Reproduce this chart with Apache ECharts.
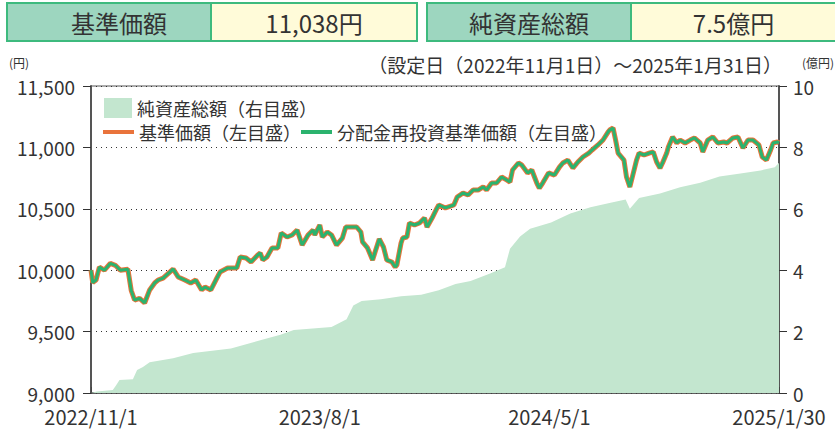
<!DOCTYPE html>
<html>
<head>
<meta charset="utf-8">
<script src="https://cdn.jsdelivr.net/npm/echarts@6.0.0/dist/echarts.min.js"></script>
<style>
html, body { margin: 0; padding: 0; background: #fff; }
#chart { width: 835px; height: 431px; }
</style>
</head>
<body>
<div id="chart"></div>
<script>
// 基準価額（円）
const priceDates = [
  '2022-11-01','2022-11-03','2022-11-07','2022-11-11','2022-11-17','2022-11-24','2022-11-30','2022-12-06','2022-12-15','2022-12-19',
  '2022-12-23','2022-12-29','2023-01-04','2023-01-10','2023-01-16','2023-01-20','2023-01-26','2023-02-03','2023-02-07','2023-02-13',
  '2023-02-21','2023-02-28','2023-03-06','2023-03-13','2023-03-17','2023-03-24','2023-03-30','2023-04-04','2023-04-13','2023-04-24',
  '2023-04-28','2023-05-05','2023-05-11','2023-05-19','2023-05-22','2023-05-25','2023-05-30','2023-06-05','2023-06-12','2023-06-16',
  '2023-06-23','2023-06-29','2023-07-05','2023-07-11','2023-07-18','2023-07-24','2023-07-26','2023-08-01','2023-08-04','2023-08-10',
  '2023-08-15','2023-08-21','2023-08-28','2023-09-01','2023-09-08','2023-09-14','2023-09-19','2023-09-21','2023-09-27','2023-10-03',
  '2023-10-06','2023-10-11','2023-10-16','2023-10-20','2023-10-26','2023-10-30','2023-11-01','2023-11-06','2023-11-08','2023-11-13',
  '2023-11-16','2023-11-22','2023-11-28','2023-12-04','2023-12-07','2023-12-13','2023-12-19','2023-12-21','2023-12-29','2024-01-08',
  '2024-01-12','2024-01-19','2024-01-25','2024-01-31','2024-02-06','2024-02-12','2024-02-16','2024-02-22','2024-02-28','2024-03-05',
  '2024-03-11','2024-03-15','2024-03-18','2024-03-25','2024-03-29','2024-04-05','2024-04-10','2024-04-16','2024-04-19','2024-04-23',
  '2024-04-30','2024-05-07','2024-05-13','2024-05-17','2024-05-23','2024-05-29','2024-06-04','2024-06-10','2024-06-17','2024-06-21',
  '2024-06-28','2024-07-04','2024-07-10','2024-07-12','2024-07-16','2024-07-19','2024-07-22','2024-07-29','2024-08-01','2024-08-05',
  '2024-08-08','2024-08-13','2024-08-16','2024-08-22','2024-08-28','2024-09-02','2024-09-06','2024-09-10','2024-09-13','2024-09-18',
  '2024-09-20','2024-09-25','2024-09-30','2024-10-04','2024-10-10','2024-10-16','2024-10-21','2024-10-28','2024-10-31','2024-11-06',
  '2024-11-12','2024-11-18','2024-11-25','2024-11-29','2024-12-06','2024-12-12','2024-12-18','2024-12-24','2024-12-30','2025-01-06',
  '2025-01-10','2025-01-15','2025-01-20','2025-01-23','2025-01-28','2025-01-30'
]
const priceValues = [
  10000, 9900, 9920, 10025, 10000, 10055, 10040, 10000, 10008, 9835,
  9757, 9770, 9733, 9839, 9896, 9920, 9936, 9985, 10010, 9945,
  9920, 9896, 9920, 9839, 9863, 9839, 9920, 9985, 10018, 10018,
  10108, 10099, 10067, 10124, 10140, 10083, 10108, 10181, 10181, 10303,
  10270, 10287, 10327, 10205, 10287, 10327, 10287, 10368, 10270, 10311,
  10287, 10205, 10262, 10352, 10352, 10352, 10311, 10230, 10181, 10083,
  10148, 10254, 10189, 10083, 10067, 10026, 10043, 10222, 10262, 10270,
  10384, 10368, 10384, 10425, 10352, 10425, 10507, 10531, 10507, 10531,
  10596, 10629, 10612, 10653, 10653, 10678, 10653, 10710, 10710, 10759,
  10735, 10718, 10816, 10873, 10857, 10792, 10816, 10710, 10669, 10710,
  10792, 10775, 10840, 10873, 10897, 10832, 10881, 10922, 10954, 10979,
  11020, 11060, 11125, 11142, 11158, 11060, 10954, 10897, 10759, 10678,
  10759, 10897, 10954, 10938, 10954, 10963, 10881, 10832, 10873, 10954,
  11003, 11085, 11036, 11060, 11036, 11060, 11077, 11036, 10963, 11060,
  11085, 11036, 11044, 11036, 11077, 11085, 10995, 11060, 11060, 11020,
  10922, 10897, 10979, 11036, 11044, 11038
]
// 分配金再投資基準価額（分配実績なしのため基準価額と同値）
const reinvestValues = priceValues.slice()

// 純資産総額（億円）
const navDates = [
  '2022-11-01','2022-11-08','2022-11-27','2022-12-01','2022-12-05','2022-12-21','2022-12-26','2023-01-02','2023-01-10','2023-02-07',
  '2023-03-03','2023-04-17','2023-05-22','2023-06-15','2023-07-01','2023-08-15','2023-09-02','2023-09-10','2023-09-20','2023-10-13',
  '2023-11-06','2023-11-30','2023-12-21','2024-01-10','2024-01-28','2024-02-21','2024-03-09','2024-03-15','2024-03-27','2024-04-08',
  '2024-05-03','2024-05-26','2024-06-19','2024-07-13','2024-07-31','2024-08-05','2024-08-16','2024-09-10','2024-10-04','2024-10-28',
  '2024-11-20','2024-12-15','2025-01-08','2025-01-25','2025-01-30'
]
const navValues = [
  0.0, 0.05, 0.1, 0.25, 0.42, 0.45, 0.75, 0.85, 1.0, 1.13,
  1.3, 1.45, 1.72, 1.9, 2.05, 2.15, 2.4, 2.85, 3.0, 3.05,
  3.15, 3.2, 3.35, 3.55, 3.65, 3.9, 4.1, 4.7, 5.1, 5.35,
  5.55, 5.85, 6.05, 6.2, 6.3, 6.0, 6.35, 6.5, 6.7, 6.85,
  7.05, 7.15, 7.25, 7.35, 7.5
]

const xTickDates = ['2022-11-01', '2023-08-01', '2024-05-01', '2025-01-30']
const leftTicks = [9000, 9500, 10000, 10500, 11000, 11500]
const rightTicks = [0, 2, 4, 6, 8, 10]

// x軸は設定日からの経過日数
const DAY = 86400000
const START = Date.UTC(2022, 10, 1)
const dayOf = s => {
  const [y, m, d] = s.split('-').map(Number)
  return Math.round((Date.UTC(y, m - 1, d) - START) / DAY)
}
const fmtDay = v => {
  const d = new Date(START + v * DAY)
  return d.getUTCFullYear() + '/' + (d.getUTCMonth() + 1) + '/' + d.getUTCDate()
}
const xTicks = xTickDates.map(dayOf)

const FONT = '"Noto Sans CJK JP", "Noto Sans", sans-serif'
const TXT = '#333'
const BOX_LINE = '#3dba7e'
const BOX_GREEN = '#9dd6bf'
const BOX_YELLOW = '#fffbd9'

const chart = echarts.init(document.getElementById('chart'), null, { renderer: 'svg' })

function headerBox(x0, xm, x1, label, value, labelX) {
  return [
    { type: 'rect', shape: { x: x0, y: 3, width: xm - x0, height: 38 }, style: { fill: BOX_GREEN, stroke: BOX_LINE, lineWidth: 2 } },
    { type: 'rect', shape: { x: xm, y: 3, width: x1 - xm, height: 38 }, style: { fill: BOX_YELLOW, stroke: BOX_LINE, lineWidth: 2 } },
    { type: 'text', style: { text: label, x: labelX, y: 22, font: '24px ' + FONT, fill: TXT, textAlign: 'center', textVerticalAlign: 'middle' } },
    { type: 'text', style: { text: value, x: (xm + x1) / 2, y: 22, font: '24px ' + FONT, fill: TXT, textAlign: 'center', textVerticalAlign: 'middle' } }
  ]
}

chart.setOption({
  animation: false,
  backgroundColor: '#fff',
  textStyle: { fontFamily: FONT },
  grid: { left: 91, right: 56, top: 86, bottom: 38, show: true, borderColor: '#555', borderWidth: 1 },
  legend: [
    {
      data: ['純資産総額（右目盛）'],
      left: 99, top: 93, itemWidth: 28, itemHeight: 20, itemGap: 10,
      textStyle: { fontSize: 18, lineHeight: 20, color: TXT, fontFamily: FONT }, icon: 'rect'
    },
    {
      data: ['基準価額（左目盛）', '分配金再投資基準価額（左目盛）'],
      left: 98, top: 117, itemWidth: 31, itemHeight: 4, itemGap: 0,
      textStyle: { fontSize: 18, lineHeight: 20, color: TXT, fontFamily: FONT }, icon: 'rect'
    }
  ],
  graphic: [
    ...headerBox(7, 211, 417, '基準価額', '11,038円', 119),
    ...headerBox(427, 631, 836, '純資産総額', '7.5億円', 529),
    { type: 'text', style: { text: '(円)', x: 9, y: 62, font: '12px ' + FONT, fill: TXT, textAlign: 'left', textVerticalAlign: 'middle' } },
    { type: 'text', style: { text: '(億円)', x: 834, y: 62, font: '12px ' + FONT, fill: TXT, textAlign: 'right', textVerticalAlign: 'middle' } },
    { type: 'text', style: { text: '（設定日（2022年11月1日）～2025年1月31日）', x: 782, y: 64, font: '19px ' + FONT, fill: TXT, textAlign: 'right', textVerticalAlign: 'middle' } }
  ],
  xAxis: {
    type: 'value',
    min: xTicks[0],
    max: xTicks[xTicks.length - 1],
    axisLine: { lineStyle: { color: '#444', width: 1.5 } },
    axisTick: { inside: true, length: 6, customValues: xTicks, lineStyle: { color: '#444' } },
    axisLabel: { customValues: xTicks, formatter: fmtDay, fontSize: 20, lineHeight: 18, color: TXT, margin: 14, fontFamily: FONT },
    splitLine: { show: false }
  },
  yAxis: [
    {
      type: 'value', min: leftTicks[0], max: leftTicks[leftTicks.length - 1], interval: 500,
      axisLine: { show: true, lineStyle: { color: '#555', width: 2 } },
      axisTick: { show: true, length: 8, lineStyle: { color: '#333' } },
      axisLabel: { fontSize: 19, lineHeight: 17, color: TXT, margin: 16, fontFamily: FONT, formatter: v => v.toLocaleString('en-US') },
      splitLine: { show: true, lineStyle: { color: '#333', type: [1, 4], width: 1 } }
    },
    {
      type: 'value', min: rightTicks[0], max: rightTicks[rightTicks.length - 1], interval: 2,
      axisLine: { show: true, lineStyle: { color: '#555', width: 2 } },
      axisTick: { show: true, length: 8, lineStyle: { color: '#333' } },
      axisLabel: { fontSize: 19, lineHeight: 17, color: TXT, margin: 14, fontFamily: FONT },
      splitLine: { show: false }
    }
  ],
  series: [
    {
      name: '純資産総額（右目盛）', type: 'line', yAxisIndex: 1,
      data: navDates.map((d, i) => [dayOf(d), navValues[i]]),
      symbol: 'none', lineStyle: { width: 0 },
      itemStyle: { color: '#c3e6cf' },
      areaStyle: { color: '#c3e6cf', opacity: 1 }, z: 1
    },
    {
      name: '基準価額（左目盛）', type: 'line', yAxisIndex: 0,
      data: priceDates.map((d, i) => [dayOf(d), priceValues[i]]),
      symbol: 'none', lineStyle: { color: '#e9733b', width: 5 },
      itemStyle: { color: '#e9733b' }, z: 3
    },
    {
      name: '分配金再投資基準価額（左目盛）', type: 'line', yAxisIndex: 0,
      data: priceDates.map((d, i) => [dayOf(d), reinvestValues[i]]),
      symbol: 'none', lineStyle: { color: '#2bb36e', width: 3 },
      itemStyle: { color: '#2bb36e' }, z: 4
    }
  ]
})
</script>
</body>
</html>
